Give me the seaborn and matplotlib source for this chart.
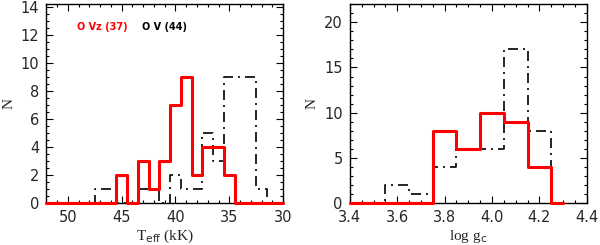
import matplotlib
matplotlib.use('Agg')
import matplotlib.pyplot as plt
import seaborn as sns
import pandas as pd
from matplotlib.ticker import MultipleLocator

# Teff histogram (bin centres in kK, 1 kK bins)
teff_centres = list(range(52, 29, -1))
teff_ovz = [0, 0, 0, 0, 0, 0, 0, 2, 0, 3, 1, 3, 7, 9, 2, 4, 4, 2, 0, 0, 0, 0, 0]
teff_ov = [0, 0, 0, 0, 0, 1, 1, 0, 0, 1, 1, 0, 2, 1, 1, 5, 3, 9, 9, 9, 1, 0, 0]

# log g_c histogram (0.1 dex bins)
logg_centres = [3.4, 3.5, 3.6, 3.7, 3.8, 3.9, 4.0, 4.1, 4.2, 4.3]
logg_ovz = [0, 0, 0, 0, 8, 6, 10, 9, 4, 0]
logg_ov = [0, 0, 2, 1, 4, 6, 6, 17, 8, 0]

sns.set_style('ticks')
plt.rcParams['font.family'] = ['DejaVu Sans']

teff_df = pd.DataFrame({'x': teff_centres, 'ovz': teff_ovz, 'ov': teff_ov})
logg_df = pd.DataFrame({'x': logg_centres, 'ovz': logg_ovz, 'ov': logg_ov})

fig = plt.figure(figsize=(6, 2.45), dpi=100)
ax1 = fig.add_axes([0.077, 0.171, 0.395, 0.812])
ax2 = fig.add_axes([0.583, 0.171, 0.395, 0.812])

dashdot = (6, 3, 1.2, 3)

for ax, df in [(ax1, teff_df), (ax2, logg_df)]:
    sns.lineplot(data=df, x='x', y='ov', ax=ax, color='black', linewidth=1.2,
                 drawstyle='steps-mid', clip_on=False, zorder=3)
    ax.lines[-1].set_dashes(dashdot)
    sns.lineplot(data=df, x='x', y='ovz', ax=ax, color='red', linewidth=2.2,
                 drawstyle='steps-mid', clip_on=False, zorder=3)

serif = ['Liberation Serif', 'DejaVu Serif']

# left panel
ax1.set_xlim(52, 30)
ax1.set_ylim(0, 14.2)
ax1.xaxis.set_major_locator(MultipleLocator(5))
ax1.xaxis.set_minor_locator(MultipleLocator(1))
ax1.yaxis.set_major_locator(MultipleLocator(2))
ax1.yaxis.set_minor_locator(MultipleLocator(0.5))
ax1.set_xlabel(r'T$_{\rm eff}$ (kK)', family=serif, fontsize=11, labelpad=2)
ax1.set_ylabel('N', family=serif, fontsize=11, labelpad=4)
ax1.text(0.13, 0.87, 'O Vz (37)', transform=ax1.transAxes, color='red',
         fontsize=7, fontweight='bold')
ax1.text(0.405, 0.87, 'O V (44)', transform=ax1.transAxes, color='black',
         fontsize=7, fontweight='bold')

# right panel
ax2.set_xlim(3.4, 4.4)
ax2.set_ylim(0, 22)
ax2.xaxis.set_major_locator(MultipleLocator(0.2))
ax2.xaxis.set_minor_locator(MultipleLocator(0.05))
ax2.yaxis.set_major_locator(MultipleLocator(5))
ax2.yaxis.set_minor_locator(MultipleLocator(1))
ax2.set_xlabel(r'log g$_{\rm c}$', family=serif, fontsize=11, labelpad=2)
ax2.set_ylabel('N', family=serif, fontsize=11, labelpad=4)

for ax in (ax1, ax2):
    ax.tick_params(which='both', direction='in', top=True, right=True,
                   labelsize=10.5, width=0.8, color='black')
    ax.tick_params(which='major', length=5, pad=5)
    ax.tick_params(which='minor', length=2.5)
    for s in ax.spines.values():
        s.set_linewidth(1.0)
        s.set_color('black')

fig.savefig('out.png', dpi=100)
